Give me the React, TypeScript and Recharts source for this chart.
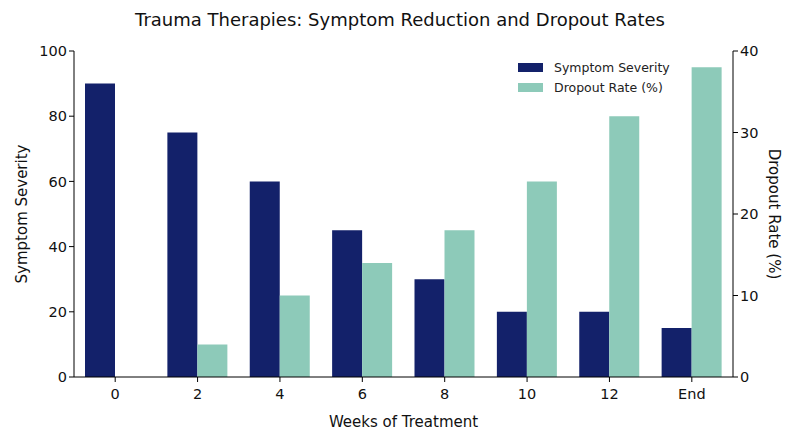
import React from "react";
import { BarChart, Bar, XAxis, YAxis } from "recharts";

const weeks = ["0", "2", "4", "6", "8", "10", "12", "End"];
const symptomSeverity = [90, 75, 60, 45, 30, 20, 20, 15];
const dropoutRate = [0, 4, 10, 14, 18, 24, 32, 38];
const leftTicks = [0, 20, 40, 60, 80, 100];
const rightTicks = [0, 10, 20, 30, 40];

const NAVY = "#13216A";
const TEAL = "#8DCAB9";
const FONT = "DejaVu Sans, Verdana, sans-serif";

const data = weeks.map((w, i) => ({
  week: w,
  severity: symptomSeverity[i],
  dropout: dropoutRate[i],
}));

const LegendBox = () => (
  <div style={{ position: "absolute", left: 518, top: 57, fontFamily: FONT, fontSize: 12.5, color: "#222" }}>
    {[
      { c: NAVY, t: "Symptom Severity" },
      { c: TEAL, t: "Dropout Rate (%)" },
    ].map((it) => (
      <div key={it.t} style={{ display: "flex", alignItems: "center", height: 20 }}>
        <span style={{ display: "inline-block", width: 25, height: 9, background: it.c, marginRight: 11 }} />
        <span>{it.t}</span>
      </div>
    ))}
  </div>
);

export default function App() {
  const tickStyle = { fontSize: 14.5, fill: "#111", fontFamily: FONT };
  return (
    <div style={{ position: "absolute", left: 0, top: 0, width: 800, height: 447, background: "#fff" }}>
      <div
        style={{
          position: "absolute",
          top: 9,
          width: 800,
          textAlign: "center",
          fontFamily: FONT,
          fontSize: 18,
          color: "#111",
        }}
      >
        Trauma Therapies: Symptom Reduction and Dropout Rates
      </div>
      <BarChart
        width={800}
        height={447}
        data={data}
        margin={{ top: 51, right: 0, left: 0, bottom: 0 }}
        barGap={0}
        barSize={30}
      >
        <XAxis
          dataKey="week"
          tick={{ ...tickStyle, dy: 5 }}
          tickLine={{ stroke: "#000" }}
          axisLine={{ stroke: "#000" }}
          tickSize={5}
          height={70}
          label={{ value: "Weeks of Treatment", position: "insideBottom", offset: 20, style: { fontSize: 15, fill: "#111", fontFamily: FONT } }}
        />
        <YAxis
          yAxisId="left"
          domain={[0, 100]}
          ticks={leftTicks}
          tick={tickStyle}
          tickLine={{ stroke: "#000" }}
          axisLine={{ stroke: "#000" }}
          tickSize={5}
          width={74}
          label={{ value: "Symptom Severity", angle: -90, position: "insideLeft", offset: 22, style: { fontSize: 15, fill: "#111", fontFamily: FONT, textAnchor: "middle" } }}
        />
        <YAxis
          yAxisId="right"
          orientation="right"
          domain={[0, 40]}
          ticks={rightTicks}
          tick={tickStyle}
          tickLine={{ stroke: "#000" }}
          axisLine={{ stroke: "#000" }}
          tickSize={5}
          width={67}
          label={{ value: "Dropout Rate (%)", angle: 90, position: "insideRight", offset: 26, style: { fontSize: 15, fill: "#111", fontFamily: FONT, textAnchor: "middle" } }}
        />
        <Bar yAxisId="left" dataKey="severity" name="Symptom Severity" fill={NAVY} isAnimationActive={false} />
        <Bar yAxisId="right" dataKey="dropout" name="Dropout Rate (%)" fill={TEAL} isAnimationActive={false} />
      </BarChart>
      <LegendBox />
    </div>
  );
}
